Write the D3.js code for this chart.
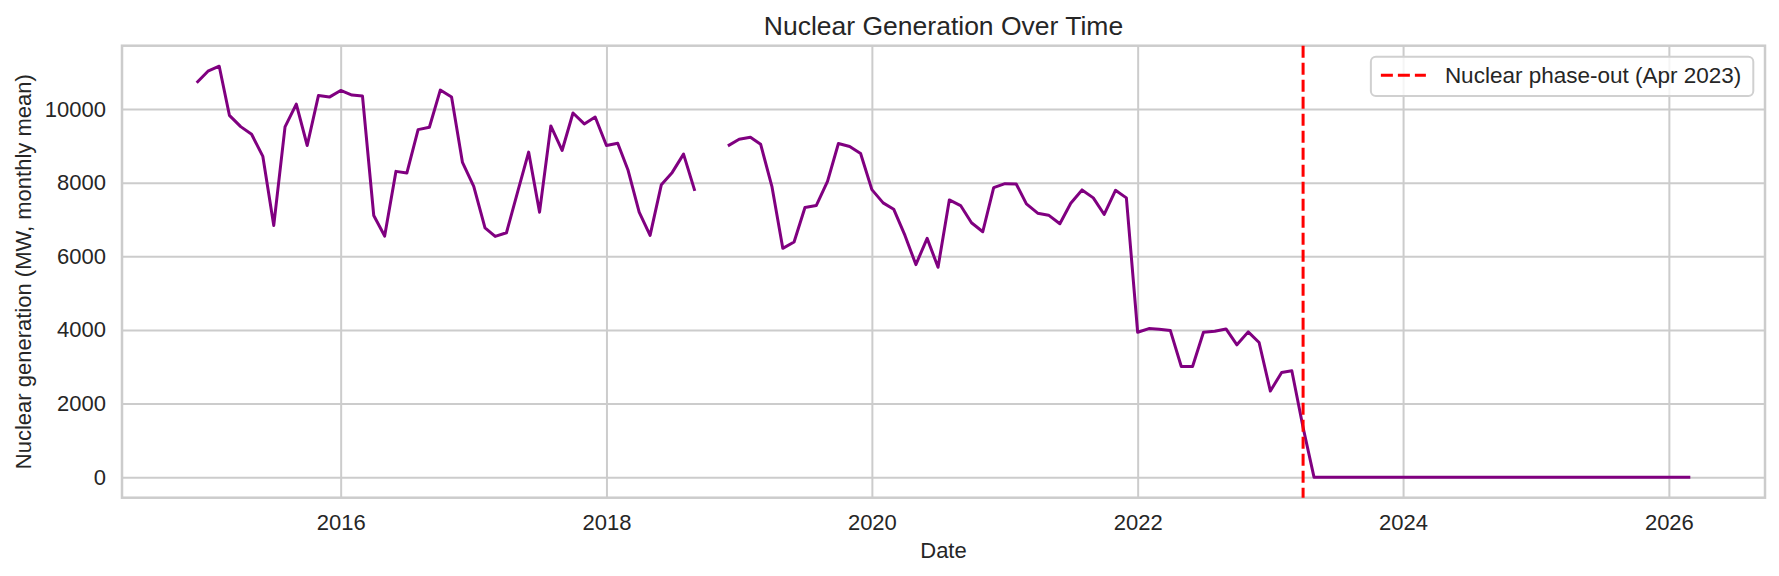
<!DOCTYPE html>
<html>
<head>
<meta charset="utf-8">
<script src="https://cdn.jsdelivr.net/npm/d3@7"></script>
<style>
    body { margin: 0; background: #fff; }
    svg text { font-family: "Liberation Sans", Arial, sans-serif; fill: #262626; }
</style>
</head>
<body>
<svg id="lineSvg" width="1779" height="576"></svg>
<script>
        // monthly means, first month = Dec 2014, null = missing month
        const firstMonth = '2014-12';
        const nuclearMW = [
            10712,
            11027, 11162, 9829, 9522, 9315, 8712, 6838, 9513, 10135, 9009, 10369, 10324,   // 2015
            10505, 10378, 10351, 7108, 6549, 8306, 8261, 9441, 9504, 10514, 10324, 8549,   // 2016
            7901, 6774, 6540, 6639, 7720, 8829, 7198, 9540, 8874, 9892, 9595, 9784,         // 2017
            9009, 9072, 8351, 7198, 6567, 7946, 8279, 8775, 7775, null, null, 9000,         // 2018
            9180, 9234, 9045, 7901, 6216, 6387, 7324, 7378, 8036, 9063, 8982, 8793,         // 2019
            7811, 7450, 7279, 6567, 5774, 6486, 5702, 7531, 7378, 6910, 6666, 7865,         // 2020
            7973, 7964, 7423, 7171, 7117, 6883, 7441, 7802, 7586, 7135, 7793, 7586,         // 2021
            3936, 4036, 4018, 3982, 3007, 3007, 3937, 3964, 4027, 3594, 3946, 3657,         // 2022
            2339, 2844, 2890, 1350, 0, 0, 0, 0, 0, 0, 0, 0,                                 // 2023
            0, 0, 0, 0, 0, 0, 0, 0, 0, 0, 0, 0,                                             // 2024
            0, 0, 0, 0, 0, 0, 0, 0, 0, 0, 0, 0,                                             // 2025
            0, 0, 0                                                                         // 2026
        ];
        const phaseOutDate = '2023-04-01';
        const legendLabel = 'Nuclear phase-out (Apr 2023)';
        const yTicks = [0, 2000, 4000, 6000, 8000, 10000];
        const xTickYears = [2016, 2018, 2020, 2022, 2024, 2026];

        const svg = d3.select('#lineSvg');
        const width = 1779;
        const height = 576;

        const margin = { top: 45.7, bottom: 78.3, right: 14, left: 122 };
        const innerWidth = width - margin.left - margin.right;
        const innerHeight = height - margin.top - margin.bottom;

        const parseMonth = d3.timeParse('%Y-%m');
        const start = parseMonth(firstMonth);
        const data = nuclearMW.map((v, i) => ({ date: d3.timeMonth.offset(start, i), value: v }));

        // matplotlib-style 5% padding around the data
        const tMin = data[0].date.getTime();
        const tMax = data[data.length - 1].date.getTime();
        const tPad = (tMax - tMin) * 0.05;
        const vMax = d3.max(nuclearMW);
        const vMin = d3.min(nuclearMW.filter(v => v !== null));
        const vPad = (vMax - vMin) * 0.05;

        const xScale = d3.scaleTime()
                            .domain([new Date(tMin - tPad), new Date(tMax + tPad)])
                            .range([0, innerWidth]);
        const yScale = d3.scaleLinear()
                            .domain([vMin - vPad, vMax + vPad])
                            .range([innerHeight, 0]);

        const g = svg.append('g')
                    .attr('transform', `translate(${margin.left}, ${margin.top})`);

        // grid + tick labels
        const xAxis = d3.axisBottom(xScale)
                        .tickValues(xTickYears.map(y => new Date(y, 0, 1)))
                        .tickFormat(d3.timeFormat('%Y'))
                        .tickSize(-innerHeight)
                        .tickPadding(16);
        const gXAxis = g.append('g')
                        .attr('transform', `translate(0,${innerHeight})`)
                        .call(xAxis);
        gXAxis.selectAll('.domain').remove();
        gXAxis.selectAll('.tick line').attr('stroke', '#cccccc').attr('stroke-width', 2);
        gXAxis.selectAll('.tick text').style('font-size', '22px').attr('dy', '0.72em');

        const yAxis = d3.axisLeft(yScale)
                        .tickValues(yTicks)
                        .tickFormat(d3.format('d'))
                        .tickSize(-innerWidth)
                        .tickPadding(16);
        const gYAxis = g.append('g').call(yAxis);
        gYAxis.selectAll('.domain').remove();
        gYAxis.selectAll('.tick line').attr('stroke', '#cccccc').attr('stroke-width', 2);
        gYAxis.selectAll('.tick text').style('font-size', '22px');

        // frame
        g.append('rect')
            .attr('width', innerWidth)
            .attr('height', innerHeight)
            .attr('fill', 'none')
            .attr('stroke', '#cccccc')
            .attr('stroke-width', 2.5);

        const line = d3.line()
                        .defined(d => d.value !== null)
                        .x(d => xScale(d.date))
                        .y(d => yScale(d.value));

        g.append('path')
            .datum(data)
            .attr('fill', 'none')
            .attr('stroke', 'purple')
            .attr('stroke-width', 3)
            .attr('stroke-linejoin', 'round')
            .attr('d', line);

        const phaseX = xScale(d3.timeParse('%Y-%m-%d')(phaseOutDate));
        g.append('line')
            .attr('x1', phaseX).attr('x2', phaseX)
            .attr('y1', 0).attr('y2', innerHeight)
            .attr('stroke', 'red')
            .attr('stroke-width', 3)
            .attr('stroke-dasharray', '12,5');

        // legend (upper right)
        const legend = g.append('g');
        const legendBox = legend.append('rect')
                            .attr('rx', 5)
                            .attr('fill', 'white')
                            .attr('fill-opacity', 0.8)
                            .attr('stroke', '#d0d0d0')
                            .attr('stroke-width', 2);
        const legendText = legend.append('text')
                            .style('font-size', '22.5px')
                            .text(legendLabel);
        const textLen = legendText.node().getComputedTextLength();
        const boxW = textLen + 86;
        const boxH = 39.3;
        const boxX = innerWidth - 11.7 - boxW;
        const boxY = 11;
        legendBox.attr('x', boxX).attr('y', boxY).attr('width', boxW).attr('height', boxH);
        legend.append('line')
            .attr('x1', boxX + 10).attr('x2', boxX + 55)
            .attr('y1', boxY + 18.6).attr('y2', boxY + 18.6)
            .attr('stroke', 'red')
            .attr('stroke-width', 3)
            .attr('stroke-dasharray', '12,5');
        legendText.attr('x', boxX + 74).attr('y', boxY + 26.8);

        // labels
        g.append('text')
            .attr('text-anchor', 'middle')
            .attr('x', innerWidth / 2)
            .attr('y', innerHeight + 60)
            .style('font-size', '22px')
            .text('Date');
        g.append('text')
            .attr('text-anchor', 'middle')
            .attr('transform', `translate(${30.7 - margin.left}, ${innerHeight / 2}) rotate(-90)`)
            .style('font-size', '22px')
            .text('Nuclear generation (MW, monthly mean)');
        g.append('text')
            .attr('text-anchor', 'middle')
            .attr('x', innerWidth / 2)
            .attr('y', 34.5 - margin.top)
            .style('font-size', '26.5px')
            .text('Nuclear Generation Over Time');
</script>
</body>
</html>
